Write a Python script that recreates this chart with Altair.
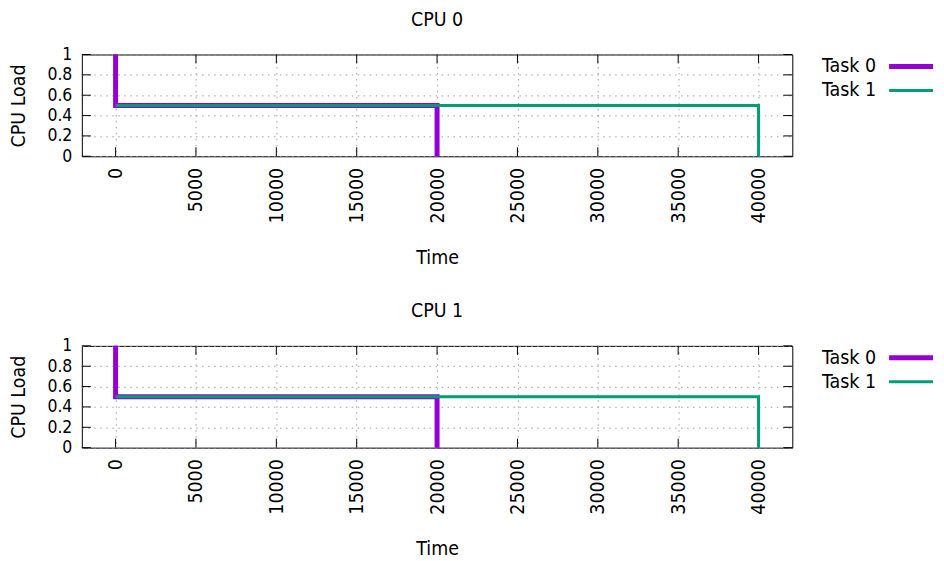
import altair as alt
import pandas as pd

# ---- data ----
tasks = ["Task 0", "Task 1"]
colors = ["#9400D3", "#009E73"]
widths = [5, 3]

# CPU 0 step lines
cpu0_task0_time = [0, 0, 20000, 20000]
cpu0_task0_load = [1.0, 0.5, 0.5, 0.0]
cpu0_task1_time = [0, 40000, 40000]
cpu0_task1_load = [0.5, 0.5, 0.0]

# CPU 1 step lines
cpu1_task0_time = [0, 0, 20000, 20000]
cpu1_task0_load = [1.0, 0.5, 0.5, 0.0]
cpu1_task1_time = [0, 40000, 40000]
cpu1_task1_load = [0.5, 0.5, 0.0]

x_ticks = [0, 5000, 10000, 15000, 20000, 25000, 30000, 35000, 40000]
y_ticks = [0, 0.2, 0.4, 0.6, 0.8, 1.0]
x_domain = [-2100, 42100]
y_domain = [0, 1]

FONT = "DejaVu Sans Condensed"
FS = 19.5
YFS = 17.5
W, H = 712, 102
TL = 9  # inward tick length (px)


def series_frame(t0_time, t0_load, t1_time, t1_load):
    rows = []
    for i, (t, l) in enumerate(zip(t0_time, t0_load)):
        rows.append({"time": t, "load": l, "task": tasks[0], "ord": i})
    for i, (t, l) in enumerate(zip(t1_time, t1_load)):
        rows.append({"time": t, "load": l, "task": tasks[1], "ord": i})
    return pd.DataFrame(rows)


color_scale = alt.Scale(domain=tasks, range=colors)
width_scale = alt.Scale(domain=tasks, range=widths)


def panel(title, df):
    xs = alt.Scale(domain=x_domain, nice=False, zero=False)
    ys = alt.Scale(domain=y_domain, nice=False)
    xaxis = alt.Axis(values=x_ticks, format="d", labelAngle=-90, ticks=False, domain=False,
                     labelPadding=11, grid=True, gridDash=[1.5, 4.5], gridColor="#a0a0a0",
                     title="Time", titlePadding=25.5, labelFlush=False, labelOverlap=False)
    yaxis = alt.Axis(values=y_ticks, format="~g", ticks=False, domain=False,
                     labelPadding=10, grid=True, gridDash=[1.5, 4.5], gridColor="#a0a0a0",
                     labelFontSize=YFS,
                     title="CPU Load", titlePadding=18, labelFlush=False, labelOverlap=False)

    base = alt.Chart(df)
    lines = base.mark_line(strokeCap="butt", strokeJoin="miter", clip=False).encode(
        x=alt.X("time:Q", scale=xs, axis=xaxis),
        y=alt.Y("load:Q", scale=ys, axis=yaxis),
        color=alt.Color("task:N", scale=color_scale, legend=None),
        strokeWidth=alt.StrokeWidth("task:N", scale=width_scale, legend=None),
        order="ord:Q",
    )

    xt = pd.DataFrame({"time": x_ticks})
    yt = pd.DataFrame({"load": y_ticks})
    rs = dict(color="black", strokeWidth=1, strokeCap="butt")
    bt = alt.Chart(xt).mark_rule(**rs).encode(
        x=alt.X("time:Q", scale=xs, axis=xaxis), y=alt.value(H), y2=alt.value(H - TL))
    tt = alt.Chart(xt).mark_rule(**rs).encode(
        x=alt.X("time:Q", scale=xs, axis=xaxis), y=alt.value(0), y2=alt.value(TL))
    lt = alt.Chart(yt).mark_rule(**rs).encode(
        y=alt.Y("load:Q", scale=ys, axis=yaxis), x=alt.value(0), x2=alt.value(TL))
    rt = alt.Chart(yt).mark_rule(**rs).encode(
        y=alt.Y("load:Q", scale=ys, axis=yaxis), x=alt.value(W), x2=alt.value(W - TL))

    return alt.layer(bt, tt, lt, rt, lines).properties(
        width=W, height=H,
        title=alt.TitleParams(title, fontSize=FS, font=FONT, fontWeight="normal",
                              anchor="middle", offset=14.5, color="black"),
    )


def legend():
    ldf = pd.DataFrame({"task": tasks})
    ys = alt.Scale(domain=tasks, type="point", padding=0.5)
    txt = alt.Chart(ldf).mark_text(align="right", baseline="middle", font=FONT,
                                   fontSize=FS, color="black").encode(
        y=alt.Y("task:N", scale=ys, axis=None), x=alt.value(84), text="task:N")
    rule = alt.Chart(ldf).mark_rule(strokeCap="butt").encode(
        y=alt.Y("task:N", scale=ys, axis=None), x=alt.value(97), x2=alt.value(141),
        color=alt.Color("task:N", scale=color_scale, legend=None),
        strokeWidth=alt.StrokeWidth("task:N", scale=width_scale, legend=None))
    return alt.layer(txt, rule).properties(width=141, height=48, view=alt.ViewConfig(stroke=None))


df0 = series_frame(cpu0_task0_time, cpu0_task0_load, cpu0_task1_time, cpu0_task1_load)
df1 = series_frame(cpu1_task0_time, cpu1_task0_load, cpu1_task1_time, cpu1_task1_load)

row0 = alt.hconcat(panel("CPU 0", df0), legend(), spacing=0, bounds="flush")
row1 = alt.hconcat(panel("CPU 1", df1), legend(), spacing=0, bounds="flush")

chart = alt.vconcat(row0, row1, spacing=32).configure(
    padding=0, font=FONT
).configure_view(
    stroke="black", strokeWidth=1
).configure_axis(
    labelFont=FONT, titleFont=FONT, labelFontSize=FS, titleFontSize=FS,
    labelColor="black", titleColor="black", titleFontWeight="normal"
).resolve_scale(color="shared")

chart.save("out.html", embed_options={"renderer": "svg", "actions": False})
